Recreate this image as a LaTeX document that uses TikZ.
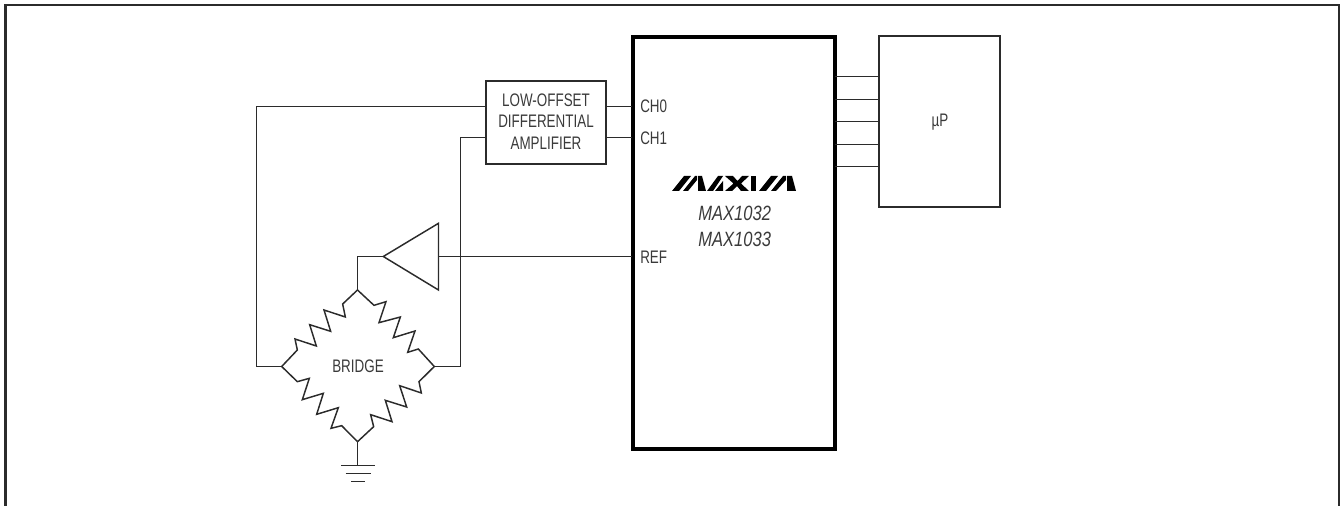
\documentclass[tikz,border=0pt]{standalone}
\usepackage{fontspec}
\setmainfont[FakeStretch=0.74]{Liberation Sans}
\newfontfamily\partfont[FakeStretch=0.8]{Liberation Sans}
\definecolor{ink}{HTML}{2B2B2B}
\definecolor{txt}{HTML}{3A3A3A}
\tikzset{
  wire/.style={draw=ink,line width=1.1pt,line join=miter},
  thinbox/.style={draw=ink,line width=1.15pt,inner sep=0pt,fill=none},
  chipbox/.style={draw=black,line width=3pt,inner sep=0pt},
  frameline/.style={draw=ink,line width=1.8pt},
  lbl/.style={text=txt,font=\fontsize{13.6pt}{16pt}\selectfont,inner sep=0pt,align=center},
  pin/.style={lbl,anchor=west},
  partlbl/.style={text=txt,font=\partfont\itshape\fontsize{15.5pt}{18pt}\selectfont,inner sep=0pt},
  logo/.style={fill=black,draw=none},
}
\begin{document}
\begin{tikzpicture}[x=0.75pt,y=-0.75pt]
\useasboundingbox (0,0) rectangle (1340,506);
\draw[frameline] (5.5,506) -- (5.5,5) -- (1338.7,5) -- (1338.7,506);

% boxes
\node[chipbox,minimum width=151.5pt,minimum height=309.2pt] (chip) at (733.7,242.85) {};
\node[thinbox,minimum width=91pt,minimum height=128.2pt] (up) at (939.5,121.5) {};
\node[thinbox,minimum width=90pt,minimum height=62.5pt] (amp) at (546,122.5) {};
\node[lbl] (amptext) at (546,121.5) {LOW-OFFSET\\DIFFERENTIAL\\AMPLIFIER};
\node[lbl] (uptext) at (940,122) {µP};
\node[lbl] (bridgetext) at (358,366.5) {BRIDGE};
\node[pin] (ch0) at (640,106.5) {CH0};
\node[pin] (ch1) at (640,138) {CH1};
\node[pin] (ref) at (640,257) {REF};
\node[partlbl] (m1032) at (734.7,213) {MAX1032};
\node[partlbl] (m1033) at (734.7,239.5) {MAX1033};

% coordinates
\coordinate (amp0l) at (486,106.5);
\coordinate (amp1l) at (486,137.5);
\coordinate (amp0r) at (606,106.5);
\coordinate (amp1r) at (606,137.5);
\coordinate (pin0) at (632,106.5);
\coordinate (pin1) at (632,137.5);
\coordinate (pinr) at (632,256.5);
\coordinate (bt) at (357.5,290);
\coordinate (bl) at (281.7,366.5);
\coordinate (br) at (434.3,366.5);
\coordinate (bb) at (357.5,441.7);
\coordinate (tapex) at (383.3,256.5);
\coordinate (tbt) at (438.5,223.3);
\coordinate (tbb) at (438.5,290);
\coordinate (tbm) at (438.5,256.5);
\coordinate (g1) at (357.5,465.5);

% amp wires
\draw[wire] (amp0r) -- (pin0);
\draw[wire] (amp1r) -- (pin1);
\draw[wire] (amp0l) -- (256.5,106.5) -- (256.5,366.5) -- (bl);
\draw[wire] (amp1l) -- (460.5,137.5) -- (460.5,366.5) -- (br);
% buffer
\draw[wire] (tapex) -- (tbt) -- (tbb) -- cycle;
\draw[wire] (tbm) -- (pinr);
\draw[wire] (tapex) -- (357.5,256.5) -- (bt);
% uP bus
\foreach \yy/\nn in {76.5/a,99.5/b,121.5/c,144.5/d,166.5/e}{
  \coordinate (bus\nn l) at (834.7,\yy);
  \coordinate (bus\nn r) at (878.7,\yy);
  \draw[wire] (bus\nn l) -- (bus\nn r);
}
% resistors
\begin{scope}[shift={(240,240)},x=0.25pt,y=-0.25pt]
\draw[wire] (bl) -- (172,330) -- (165,297) -- (229,318) -- (209,254) -- (272,274) -- (252,210) -- (316,231) -- (308,192) -- (bt);
\draw[wire] (bt) -- (402,196) -- (438,185) -- (417,248) -- (481,231) -- (460,293) -- (525,273) -- (503,337) -- (535,327) -- (br);
\draw[wire] (bl) -- (172,425) -- (208,415) -- (187,479) -- (250,460) -- (230,523) -- (295,503) -- (273,565) -- (305,557) -- (bb);
\draw[wire] (br) -- (537,425) -- (544,459) -- (479,437) -- (500,501) -- (436,481) -- (456,545) -- (392,524) -- (401,560) -- (bb);
\end{scope}
% ground
\draw[wire] (bb) -- (g1);
\draw[wire] (341,465.5) -- (375,465.5);
\draw[wire] (345.7,473.5) -- (370.5,473.5);
\draw[wire] (351,481.5) -- (364.5,481.5);
% logo
\fill[logo] (672,191) -- (684,176) -- (691,176) -- (679,191) -- cycle;
\fill[logo] (683,191) -- (695,176) -- (697,176) -- (697,180) -- (688,191) -- cycle;
\fill[logo] (698,176) -- (702,176) -- (706,191) -- (698,191) -- cycle;
\fill[logo] (707,191) -- (718,176) -- (723,176) -- (713,191) -- cycle;
\fill[logo] (715,191) -- (723,181) -- (723,191) -- cycle;
\fill[logo] (725,176) -- (733,176) -- (737.5,181) -- (742,176) -- (749,176) -- (741,183.5) -- (749,191) -- (741,191) -- (737,186) -- (732,191) -- (725,191) -- (733.5,183.5) -- cycle;
\fill[logo] (751,176) -- (756,176) -- (756,191) -- (751,191) -- cycle;
\fill[logo] (759,191) -- (771,176) -- (778,176) -- (766,191) -- cycle;
\fill[logo] (771,191) -- (783,176) -- (786,176) -- (786,180) -- (776,191) -- cycle;
\fill[logo] (787,176) -- (792,176) -- (796,191) -- (787,191) -- cycle;
\end{tikzpicture}
\end{document}
